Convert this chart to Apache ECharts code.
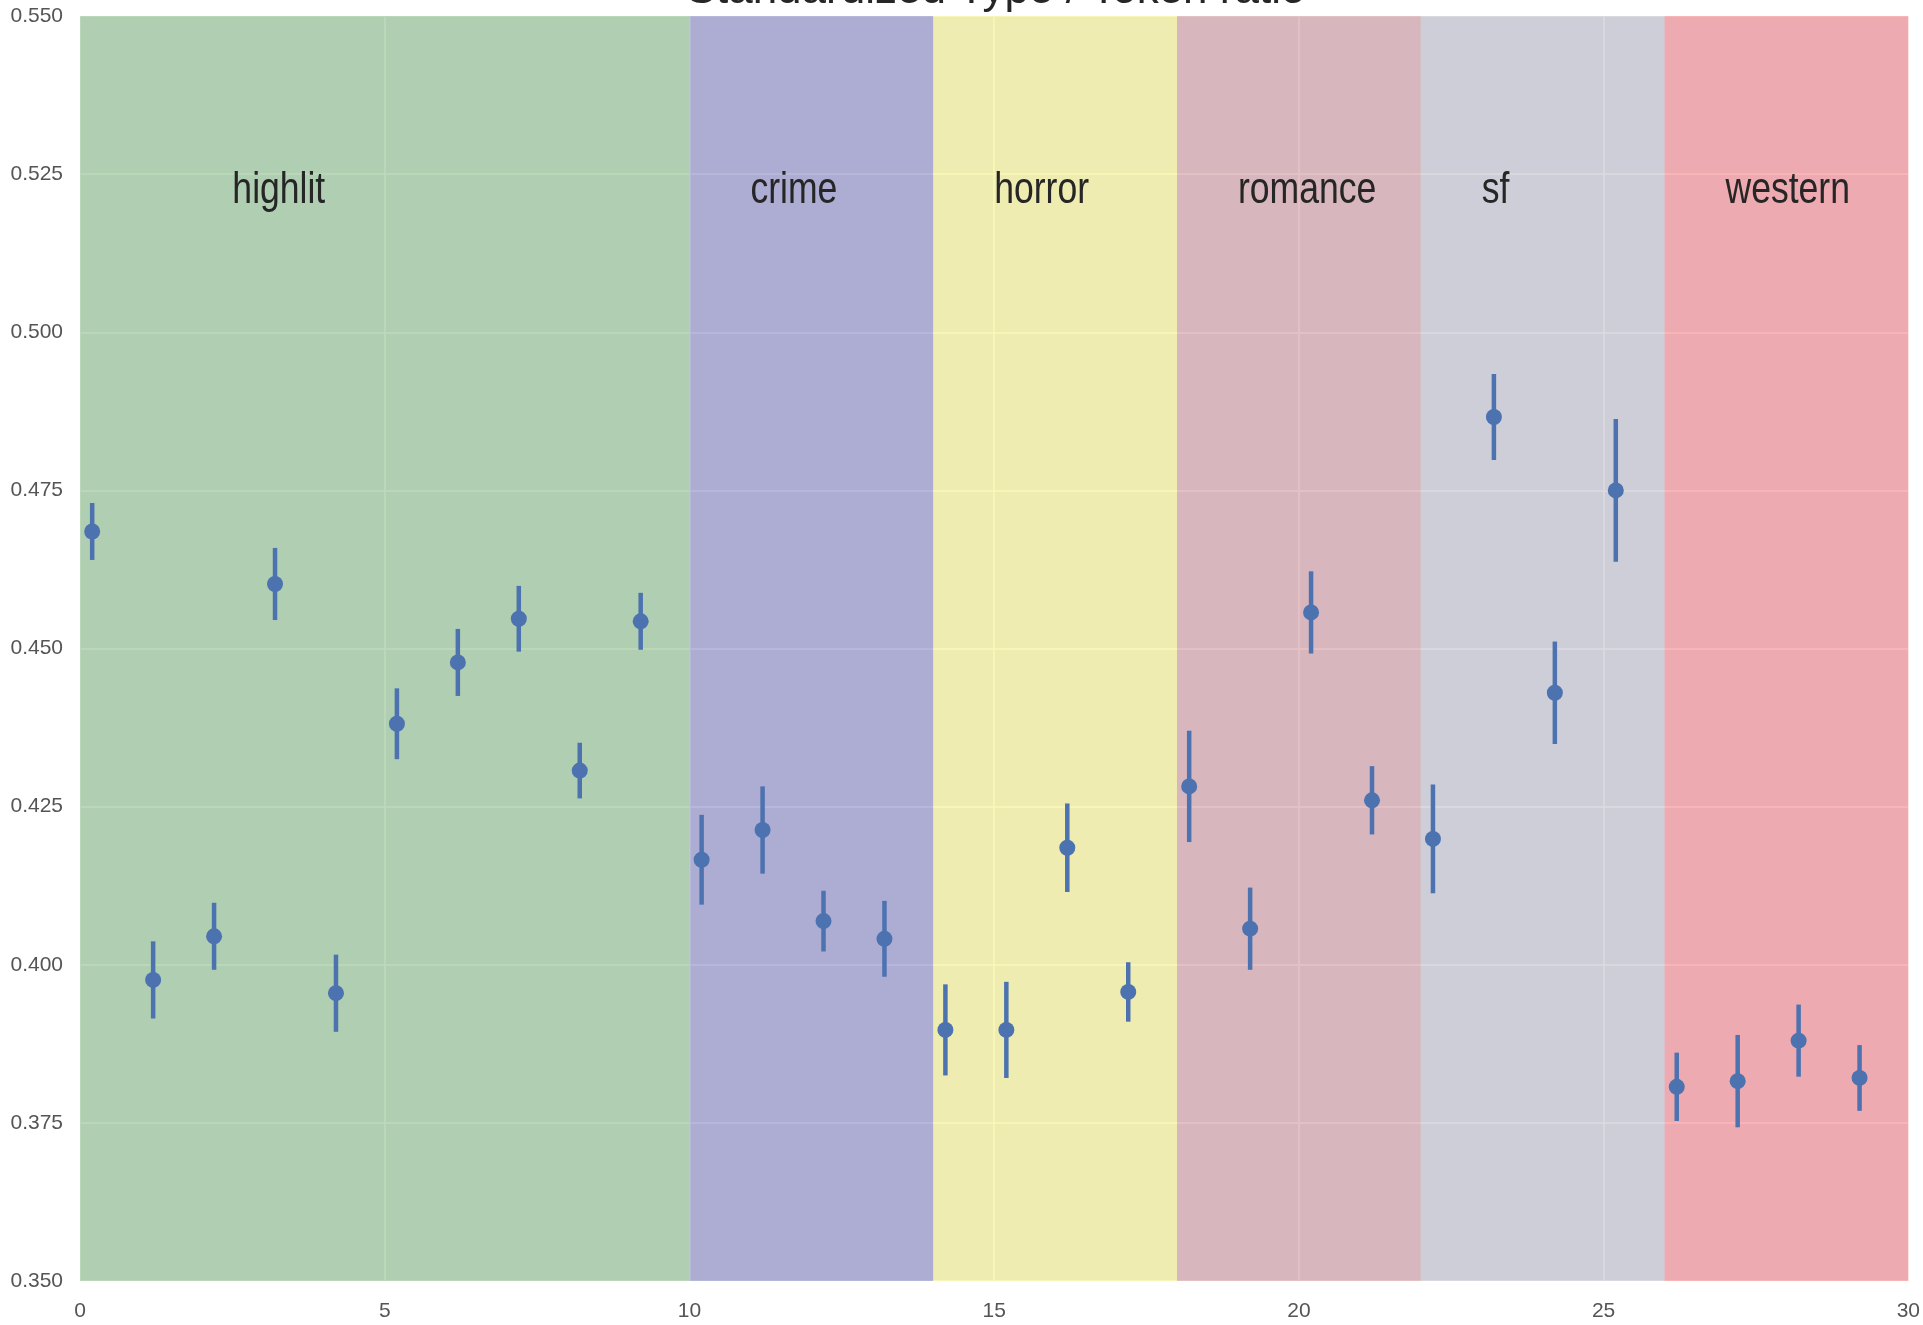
<!DOCTYPE html>
<html>
<head>
<meta charset="utf-8">
<script src="https://cdn.jsdelivr.net/npm/echarts@6/dist/echarts.min.js"></script>
<style>
  html, body { margin: 0; padding: 0; background: #ffffff; }
  #chart { width: 1923px; height: 1325px; }
</style>
</head>
<body>
<div id="chart"></div>
<script>
// Genre bands along the book axis
const genres      = ['highlit', 'crime', 'horror', 'romance', 'sf', 'western'];
const genreStart  = [0, 10, 14, 18, 22, 26];
const genreEnd    = [10, 14, 18, 22, 26, 30];
const genreLabelX = [2.5, 11, 15, 19, 23, 27];
const genreLabelY = 0.52;
const genreColors = [
  'rgba(89,166,82,0.4)',
  'rgba(82,82,167,0.4)',
  'rgba(246,241,77,0.4)',
  'rgba(191,104,110,0.4)',
  'rgba(166,164,177,0.4)',
  'rgba(246,74,80,0.4)'
];

// Standardized type/token ratio per book, with error half-widths
const bookOffset = 0.2;
const ratios = [
  0.4685, 0.3976, 0.4045, 0.4602, 0.3955, 0.4381, 0.4478, 0.4547, 0.4307, 0.4543,
  0.4166, 0.4213, 0.4069, 0.4041, 0.3897, 0.3897, 0.4185, 0.3957,
  0.4282, 0.4057, 0.4557, 0.4260,
  0.4199, 0.4866, 0.4430, 0.4750,
  0.3807, 0.3816, 0.3880, 0.3821
];
const errors = [
  0.0045, 0.0061, 0.0053, 0.0057, 0.0061, 0.0056, 0.0053, 0.0052, 0.0044, 0.0045,
  0.0071, 0.0069, 0.0048, 0.0060, 0.0072, 0.0076, 0.0070, 0.0047,
  0.0088, 0.0065, 0.0065, 0.0054,
  0.0086, 0.0068, 0.0081, 0.0113,
  0.0054, 0.0073, 0.0057, 0.0052
];

const yMin = 0.35, yMax = 0.55, yStep = 0.025;
const xMin = 0, xMax = 30, xStep = 5;

const titleText = 'Standardized Type / Token ratio';
const FONT = "'Liberation Sans', Arial, sans-serif";
const POINT_COLOR = '#4c72b0';

const GRID = { left: 80, right: 11, top: 16, bottom: 44 };

const points = ratios.map((v, i) => [i + bookOffset, v]);
const bars = ratios.map((v, i) => [i + bookOffset, v - errors[i], v + errors[i]]);
const labels = genres.map((g, i) => [genreLabelX[i], genreLabelY, g]);

const chart = echarts.init(document.getElementById('chart'), null, { renderer: 'canvas' });
const plotCenterX = GRID.left + (1923 - GRID.left - GRID.right) / 2;

chart.setOption({
  animation: false,
  backgroundColor: '#ffffff',
  title: {
    text: titleText,
    left: plotCenterX,
    textAlign: 'center',
    top: -32,
    padding: 0,
    textStyle: { fontFamily: FONT, fontSize: 44, fontWeight: 'normal', color: '#262626', lineHeight: 46 }
  },
  grid: Object.assign({ show: true, backgroundColor: '#EAEAF2', borderWidth: 0 }, GRID),
  xAxis: {
    type: 'value', min: xMin, max: xMax, interval: xStep,
    axisLine: { show: false }, axisTick: { show: false },
    splitLine: { show: true, lineStyle: { color: '#ffffff', width: 1.5 } },
    axisLabel: { fontFamily: FONT, fontSize: 21, color: '#555555', margin: 20 }
  },
  yAxis: {
    type: 'value', min: yMin, max: yMax, interval: yStep,
    axisLine: { show: false }, axisTick: { show: false },
    splitLine: { show: true, lineStyle: { color: '#ffffff', width: 1.5 } },
    axisLabel: {
      fontFamily: FONT, fontSize: 21, color: '#555555', margin: 17,
      formatter: v => v.toFixed(3)
    }
  },
  series: [
    {
      name: 'bands',
      type: 'line',
      data: [],
      silent: true,
      markArea: {
        silent: true,
        data: genres.map((g, i) => [
          { xAxis: genreStart[i], itemStyle: { color: genreColors[i] } },
          { xAxis: genreEnd[i] }
        ])
      }
    },
    {
      name: 'genre labels',
      type: 'custom',
      silent: true,
      data: labels,
      renderItem: (params, api) => {
        const p = api.coord([api.value(0), api.value(1)]);
        return {
          type: 'text',
          x: p[0], y: p[1] + 7,
          scaleX: 0.79,
          style: {
            text: labels[params.dataIndex][2],
            fontFamily: FONT, fontSize: 45,
            fill: '#262626',
            textAlign: 'left', textVerticalAlign: 'bottom'
          }
        };
      }
    },
    {
      name: 'error',
      type: 'custom',
      data: bars,
      renderItem: (params, api) => {
        const lo = api.coord([api.value(0), api.value(1)]);
        const hi = api.coord([api.value(0), api.value(2)]);
        return {
          type: 'line',
          shape: { x1: lo[0], y1: lo[1], x2: hi[0], y2: hi[1] },
          style: { stroke: POINT_COLOR, lineWidth: 4.5 }
        };
      },
      z: 3
    },
    {
      name: 'ratio',
      type: 'scatter',
      data: points,
      symbol: 'circle',
      symbolSize: 16,
      itemStyle: { color: POINT_COLOR, opacity: 1 },
      z: 4
    }
  ]
});
</script>
</body>
</html>
